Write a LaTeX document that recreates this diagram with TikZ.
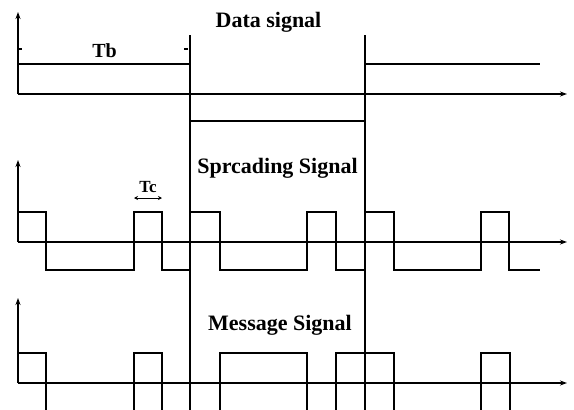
\documentclass[tikz,border=0pt]{standalone}
\usepackage{fontspec}
\setmainfont{Liberation Serif}
\usetikzlibrary{arrows.meta}
\begin{document}
\begin{tikzpicture}[x=1pt,y=-1pt,
  wave/.style={line width=1.3pt,line join=miter},
  axis/.style={line width=1.3pt,-{Stealth[length=7pt,width=5pt]}},
  lbl/.style={anchor=base,inner sep=0pt,font=\fontsize{22}{24}\selectfont\bfseries},
  tlbl/.style={anchor=base,inner sep=0pt,font=\fontsize{20}{22}\selectfont\bfseries}]
\useasboundingbox (0,0) rectangle (574,410);
% ---------- Data signal ----------
\node[lbl] (tdata) at (268.5,27) {Data signal};
\node[tlbl] (tb) at (104.5,57) {Tb};
\draw[axis] (18,94) -- (18,12);
\draw[axis] (18,94) -- (567,94);
\draw[line width=1.3pt] (18,49) -- (22,49);
\draw[line width=1.3pt] (184,49) -- (188,49);
\draw[wave] (18,64) -- (190,64);
\draw[wave] (190,35) -- (190,410);
\draw[wave] (190,121) -- (365,121);
\draw[wave] (365,35) -- (365,410);
\draw[wave] (365,64) -- (540,64);
% ---------- Spreading signal ----------
\node[lbl] (tspread) at (277.5,173) {Sprcading Signal};
\node[anchor=base,inner sep=0pt,font=\fontsize{17}{19}\selectfont\bfseries] (tc) at (148,192) {Tc};
\draw[line width=1pt,{Stealth[length=4pt,width=4pt]}-{Stealth[length=4pt,width=4pt]}] (134,198) -- (162,198);
\draw[axis] (18,242) -- (18,160);
\draw[axis] (18,242) -- (567,242);
\draw[wave] (18,212) -- (46,212) -- (46,270) -- (134,270) -- (134,212) -- (162,212)
  -- (162,270) -- (190,270) -- (190,212) -- (220,212) -- (220,270) -- (307,270)
  -- (307,212) -- (336,212) -- (336,270) -- (365,270) -- (365,212) -- (394,212)
  -- (394,270) -- (481,270) -- (481,212) -- (509,212) -- (509,270) -- (540,270);
% ---------- Message signal ----------
\node[lbl] (tmsg) at (280,330) {Message Signal};
\draw[axis] (18,383) -- (18,298);
\draw[axis] (18,383) -- (567,383);
\draw[wave] (18,353) -- (46,353) -- (46,410);
\draw[wave] (134,410) -- (134,353) -- (162,353) -- (162,410);
\draw[wave] (220,410) -- (220,353) -- (307,353) -- (307,410);
\draw[wave] (336,410) -- (336,353) -- (394,353) -- (394,410);
\draw[wave] (481,410) -- (481,353) -- (510,353) -- (510,410);
\end{tikzpicture}
\end{document}
